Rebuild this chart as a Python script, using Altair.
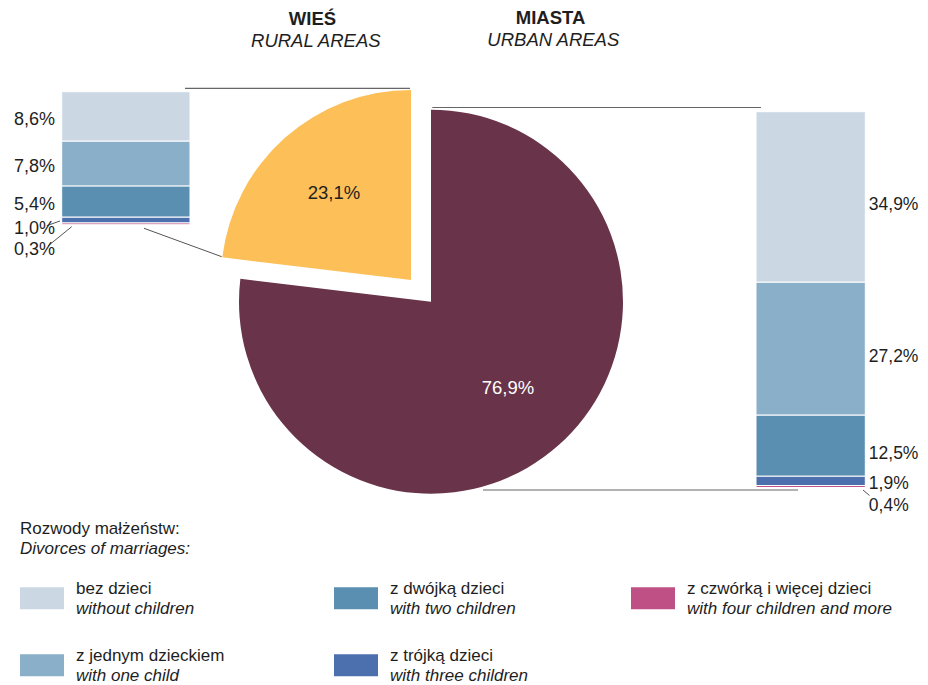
import math
import altair as alt
import pandas as pd

# ---------------- data ----------------
categories_pl = ["bez dzieci", "z jednym dzieckiem", "z dwójką dzieci",
                 "z trójką dzieci", "z czwórką i więcej dzieci"]
categories_en = ["without children", "with one child", "with two children",
                 "with three children", "with four children and more"]
category_colors = ["#CBD8E4", "#8AAFC9", "#5B8FB1", "#4C70AE", "#BF5085"]

rural_values = [8.6, 7.8, 5.4, 1.0, 0.3]     # WIEŚ
urban_values = [34.9, 27.2, 12.5, 1.9, 0.4]  # MIASTA

areas = ["Miasta", "Wieś"]
area_shares = [76.9, 23.1]
area_colors = ["#693349", "#FDBF57"]

FONT = "Liberation Sans"
TXT = "#1e1e1e"
LINE = "#555555"

label_expr = "replace(format(datum.value, '.1f'), '.', ',') + '%'"
cat_color = alt.Color("cat:N", scale=alt.Scale(domain=categories_pl, range=category_colors), legend=None)

one = alt.Data(values=[{}])


def rule(x1, y1, x2, y2, color=LINE, w=1.0):
    return alt.Chart(one).mark_rule(color=color, strokeWidth=w).encode(
        x=alt.value(x1), y=alt.value(y1), x2=alt.value(x2), y2=alt.value(y2))


def text(t, x, y, size, align="center", weight="normal", style="normal"):
    return alt.Chart(one).mark_text(text=t, font=FONT, fontSize=size, align=align,
                                    baseline="alphabetic", fontWeight=weight,
                                    fontStyle=style, color=TXT).encode(
        x=alt.value(x), y=alt.value(y))


def stacked_bar(values, x0, x1, y_range, label_x, label_align, big_dy, small_dy, fs):
    df = pd.DataFrame({"cat": categories_pl, "idx": list(range(len(values))), "value": values})
    base = alt.Chart(df).transform_window(
        cum="sum(value)", sort=[alt.SortField("idx", order="descending")]
    ).transform_calculate(
        start="datum.cum - datum.value",
        mid="datum.cum - datum.value / 2",
        label=label_expr,
    )
    ys = alt.Scale(domain=[0, sum(values)], range=y_range)
    bars = base.mark_rect(stroke="white", strokeWidth=1).encode(
        x=alt.value(x0), x2=alt.value(x1),
        y=alt.Y("start:Q", scale=ys, axis=None), y2="cum:Q",
        color=cat_color)
    layers = [bars]
    layers.append(base.transform_filter("datum.value >= 3").mark_text(
        font=FONT, fontSize=fs, align=label_align, baseline="alphabetic", dy=big_dy, color=TXT
    ).encode(x=alt.value(label_x), y=alt.Y("mid:Q", scale=ys, axis=None), text="label:N"))
    for i, d in small_dy.items():
        layers.append(base.transform_filter(f"datum.idx == {i}").mark_text(
            font=FONT, fontSize=fs, align=label_align, baseline="alphabetic", dy=d, color=TXT
        ).encode(x=alt.value(label_x), y=alt.Y("mid:Q", scale=ys, axis=None), text="label:N"))
    return layers


# ---------------- pie ----------------
pie_df = pd.DataFrame({"area": areas, "value": area_shares, "order": [0, 1]})
pie_base = alt.Chart(pie_df).transform_window(
    cum="sum(value)", sort=[alt.SortField("order")]
).transform_calculate(
    start="datum.cum - datum.value",
    mid="datum.cum - datum.value / 2",
    label=label_expr,
)
theta_scale = alt.Scale(domain=[0, 100], range=[0, 2 * math.pi])
area_color = alt.Color("area:N", scale=alt.Scale(domain=areas, range=area_colors), legend=None)

pie_centers = {"Miasta": (423, 293.7, 192, "white"), "Wieś": (403, 272, 190, TXT)}
pie_layers = []
for a in areas:
    cx, cy, r, tc = pie_centers[a]
    sl = pie_base.transform_filter(f"datum.area == '{a}'")
    pie_layers.append(sl.mark_arc(radius=r).encode(
        theta=alt.Theta("start:Q", scale=theta_scale), theta2="cum:Q",
        color=area_color, x=alt.value(cx), y=alt.value(cy)))
    pie_layers.append(sl.mark_text(radius=116, font=FONT, fontSize=18.5, color=tc,
                                   baseline="middle").encode(
        theta=alt.Theta("mid:Q", scale=theta_scale), text="label:N",
        x=alt.value(cx), y=alt.value(cy)))

# ---------------- legend ----------------
leg_df = pd.DataFrame({"cat": categories_pl, "en": categories_en, "idx": list(range(5))})
leg_base = alt.Chart(leg_df).transform_calculate(
    col="floor(datum.idx / 2)", row="datum.idx % 2")
col_scale = alt.Scale(domain=[0, 1, 2], range=[12, 326, 623])
row_scale = alt.Scale(domain=[0, 1], range=[579.3, 646.3])
leg_rect = leg_base.mark_rect(x2Offset=44, y2Offset=22).encode(
    x=alt.X("col:Q", scale=col_scale, axis=None), x2="col:Q",
    y=alt.Y("row:Q", scale=row_scale, axis=None), y2="row:Q",
    color=cat_color)
leg_pl = leg_base.mark_text(font=FONT, fontSize=17, align="left", baseline="alphabetic",
                            dx=56, dy=6.5, color=TXT).encode(
    x=alt.X("col:Q", scale=col_scale, axis=None),
    y=alt.Y("row:Q", scale=row_scale, axis=None), text="cat:N")
leg_en = leg_base.mark_text(font=FONT, fontSize=17, align="left", baseline="alphabetic",
                            fontStyle="italic", dx=56, dy=26.5, color=TXT).encode(
    x=alt.X("col:Q", scale=col_scale, axis=None),
    y=alt.Y("row:Q", scale=row_scale, axis=None), text="en:N")

# ---------------- assemble ----------------
layers = [
    rule(177, 80.3, 402, 80.3, "#666666", 1.2),
    rule(136, 220.3, 213.7, 248.7),
    rule(424.3, 99.5, 753, 99.5, "#666666", 1.2),
    rule(475, 482, 790, 482, "#666666", 1.2),
    rule(38.7, 217.7, 52, 213),
    rule(40.3, 237.7, 63.7, 218.7),
    rule(855, 482, 861.5, 487.5),
]
layers += pie_layers
layers += stacked_bar(rural_values, 53.7, 182, [216.7, 83.7], 47, "right", 8.8,
                      {3: 14, 4: 31}, 18)
layers += stacked_bar(urban_values, 748, 857.3, [479.5, 103.7], 860.8, "left", 13,
                      {3: 8.2, 4: 24.9}, 17.5)
layers += [
    text("WIEŚ", 304.5, 17, 18.5, weight="bold"),
    text("RURAL AREAS", 307.8, 38.7, 18.5, style="italic"),
    text("MIASTA", 542.5, 16.3, 18.5, weight="bold"),
    text("URBAN AREAS", 545.3, 38, 18.5, style="italic"),
    text("Rozwody małżeństw:", 12, 526.3, 17, align="left"),
    text("Divorces of marriages:", 12, 546, 17, align="left", style="italic"),
    leg_rect, leg_pl, leg_en,
]

chart = alt.layer(*layers).properties(
    width=912, height=677, padding=0, autosize="none"
).resolve_scale(
    x="independent", y="independent", color="independent"
).configure_view(stroke=None)

chart.save("out.html", embed_options={"renderer": "svg", "actions": False})
